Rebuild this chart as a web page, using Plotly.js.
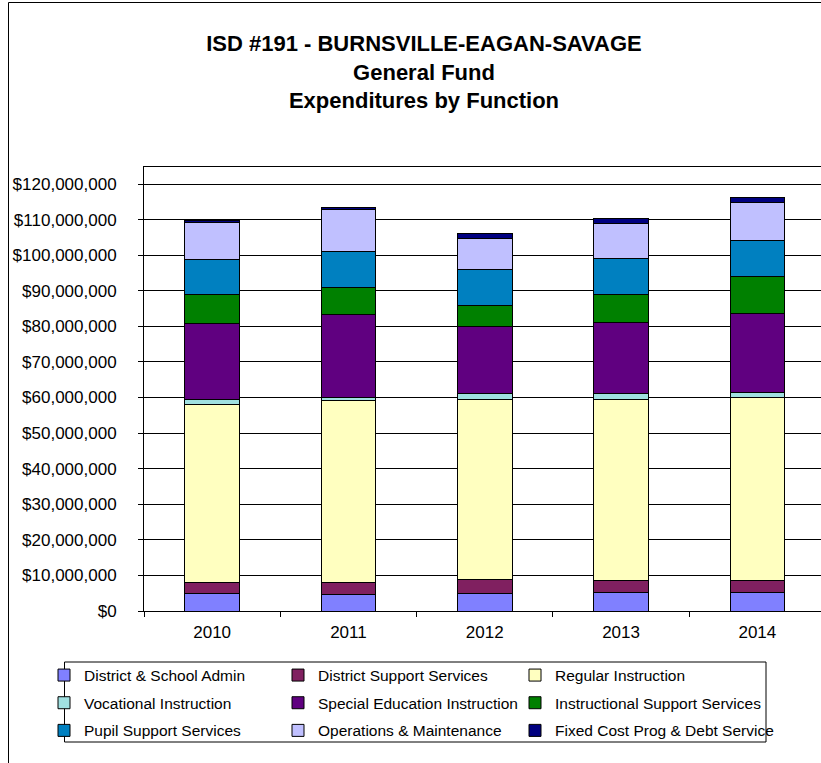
<!DOCTYPE html>
<html>
<head>
<meta charset="utf-8">
<script src="https://cdn.plot.ly/plotly-3.0.1.min.js"></script>
<style>
html, body { margin: 0; padding: 0; overflow: hidden; background: #fff; }
#chart { width: 821px; height: 763px; }
</style>
</head>
<body>
<div id="chart"></div>
<script>
// Fiscal years
const years = ['2010', '2011', '2012', '2013', '2014'];

// Expenditures by function (dollars)
const districtSchoolAdmin   = [4900000, 4550000, 4850000, 5250000, 5250000];
const districtSupport       = [3100000, 3350000, 3900000, 3450000, 3450000];
const regularInstruction    = [50000000, 51200000, 50650000, 50700000, 51400000];
const vocationalInstruction = [1500000, 1000000, 1600000, 1600000, 1300000];
const specialEducation      = [21400000, 23100000, 19000000, 20100000, 22200000];
const instructionalSupport  = [8100000, 7800000, 5800000, 7800000, 10400000];
const pupilSupport          = [9650000, 10000000, 10100000, 10100000, 10100000];
const operationsMaint       = [10650000, 11900000, 8800000, 10000000, 10700000];
const fixedCostDebt         = [400000, 500000, 1300000, 1200000, 1300000];

const seriesNames = [
  'District & School Admin', 'District Support Services', 'Regular Instruction',
  'Vocational Instruction', 'Special Education Instruction', 'Instructional Support Services',
  'Pupil Support Services', 'Operations & Maintenance', 'Fixed Cost Prog & Debt Service'
];
const seriesValues = [
  districtSchoolAdmin, districtSupport, regularInstruction,
  vocationalInstruction, specialEducation, instructionalSupport,
  pupilSupport, operationsMaint, fixedCostDebt
];
const seriesColors = [
  '#8080FF', '#802060', '#FFFFC0',
  '#A0E0E0', '#600080', '#008000',
  '#0080C0', '#C0C0FF', '#000080'
];
// legend columns (the reference legend reads row by row, 3 per row)
const legendIds = ['legend', 'legend2', 'legend3', 'legend', 'legend2', 'legend3', 'legend', 'legend2', 'legend3'];

const FONT = '"Liberation Sans", Arial, sans-serif';

const traces = seriesNames.map((name, i) => ({
  type: 'bar',
  name: name,
  x: years,
  y: seriesValues[i],
  width: 0.4,
  marker: { color: seriesColors[i], line: { color: '#000000', width: 1 } },
  legend: legendIds[i],
  legendgroup: 'g' + i,
  hoverinfo: 'name+y'
}));

// pixel helpers for paper coordinates
const W = 821, H = 763, ML = 144, MR = 0, MT = 167, MB = 152;
const PW = W - ML - MR, PH = H - MT - MB;
const px = v => (v - ML) / PW;
const py = v => (H - MB - v) / PH;

const legendCommon = {
  orientation: 'v',
  xanchor: 'left',
  yanchor: 'top',
  y: py(658.5),
  traceorder: 'grouped',
  tracegroupgap: 4.5,
  bgcolor: 'rgba(0,0,0,0)',
  borderwidth: 0,
  font: { family: FONT, size: 15.5, color: '#000' }
};

const layout = {
  width: W,
  height: H,
  margin: { l: ML, r: MR, t: MT, b: MB, pad: 0 },
  paper_bgcolor: '#ffffff',
  plot_bgcolor: '#ffffff',
  font: { family: FONT, color: '#000' },
  barmode: 'stack',
  title: {
    text: 'ISD #191 - BURNSVILLE-EAGAN-SAVAGE<br>General Fund<br>Expenditures by Function',
    font: { family: FONT, size: 22, weight: 'bold', color: '#000' },
    x: 424 / W, xanchor: 'center', xref: 'container',
    y: 1 - 51 / H, yanchor: 'top', yref: 'container'
  },
  xaxis: {
    type: 'category',
    range: [-0.5, 4.5 - (ML + 681.5 - W) / 136.3],
    showline: true, linecolor: '#000', linewidth: 1, mirror: true,
    ticks: 'outside', tickson: 'boundaries', ticklen: 5, tickcolor: '#000', tickwidth: 1,
    ticklabelstandoff: 6,
    tickfont: { family: FONT, size: 17, color: '#000' },
    showgrid: false, zeroline: false, fixedrange: true
  },
  yaxis: {
    range: [0, 124.78e6],
    tickvals: [0, 10e6, 20e6, 30e6, 40e6, 50e6, 60e6, 70e6, 80e6, 90e6, 100e6, 110e6, 120e6],
    tickformat: '$,.0f',
    showline: true, linecolor: '#000', linewidth: 1,
    ticks: 'outside', ticklen: 5, tickcolor: '#000', tickwidth: 1,
    ticklabelstandoff: 18,
    tickfont: { family: FONT, size: 17, color: '#000' },
    showgrid: true, gridcolor: '#000', gridwidth: 1,
    zeroline: false, fixedrange: true
  },
  legend:  Object.assign({}, legendCommon, { x: px(44) }),
  legend2: Object.assign({}, legendCommon, { x: px(278) }),
  legend3: Object.assign({}, legendCommon, { x: px(515) }),
  shapes: [
    // outer chart border
    { type: 'rect', xref: 'paper', yref: 'paper',
      x0: px(8.5), x1: px(W + 30), y0: py(H + 30), y1: py(2.5),
      line: { color: '#000', width: 1 }, fillcolor: 'rgba(0,0,0,0)', layer: 'below' },
    // legend box
    { type: 'rect', xref: 'paper', yref: 'paper',
      x0: px(64.5), x1: px(766), y0: py(742), y1: py(662),
      line: { color: '#000', width: 1 }, fillcolor: 'rgba(0,0,0,0)', layer: 'above' }
  ],
  showlegend: true
};

Plotly.newPlot('chart', traces, layout, { displayModeBar: false, staticPlot: true });
</script>
</body>
</html>
